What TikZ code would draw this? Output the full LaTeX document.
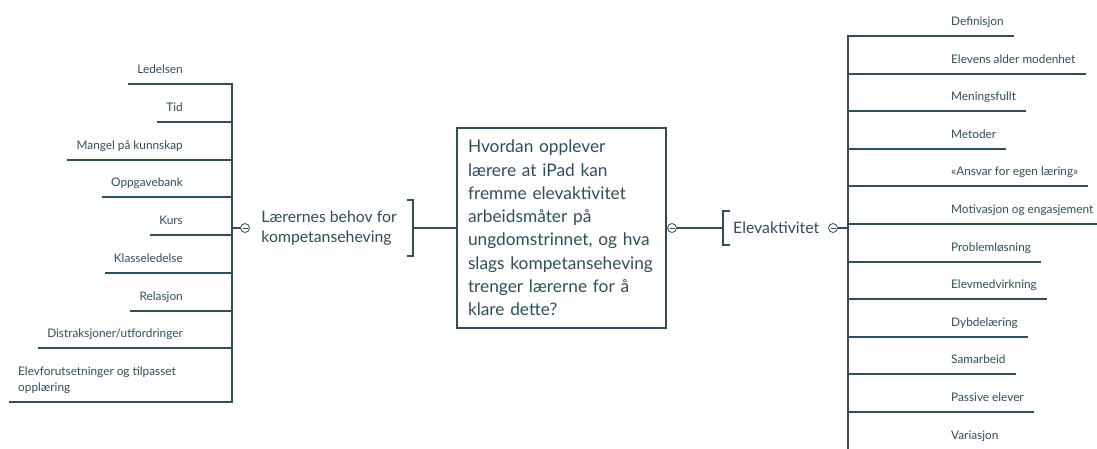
\documentclass[tikz,border=0pt]{standalone}
\usepackage{fontspec}
\setmainfont{Lato}
\usepackage{xcolor}
\definecolor{mapteal}{RGB}{46,78,90}

\begin{document}
\begin{tikzpicture}[x=1pt, y=-1pt]
% Define styles
\tikzstyle{branch} = [draw=mapteal, line width=2pt]
\tikzstyle{leafl} = [text=mapteal, font=\fontsize{11.8}{16}\selectfont, inner xsep=9pt, anchor=base east]
\tikzstyle{leafr} = [text=mapteal, font=\fontsize{11.8}{16}\selectfont, inner xsep=10pt, anchor=base west]
\tikzstyle{topic} = [text=mapteal, font=\fontsize{15.8}{20}\selectfont, align=left]
\tikzstyle{question} = [rectangle, draw=mapteal, line width=2pt, text=mapteal, font=\fontsize{17.3}{23.3}\selectfont, align=left, text width=187pt, inner xsep=11pt, minimum height=200pt]
\tikzstyle{toggle} = [circle, draw=mapteal, line width=0.8pt, fill=white, minimum size=9pt, inner sep=0pt,
  path picture={\draw[mapteal, line width=0.8pt] ([xshift=-2.5pt]path picture bounding box.center) -- ([xshift=2.5pt]path picture bounding box.center);}]

\useasboundingbox (0,0) rectangle (1097,448);
\clip (0,0) rectangle (1097,448);

% Spine points
\coordinate (sLtop) at (232,83);
\coordinate (sLmid) at (232,228);
\coordinate (sLbot) at (232,403);
\coordinate (sRtop) at (848,35);
\coordinate (sRmid) at (848,228);
\coordinate (sRbot) at (848,460);

% Place nodes
\node [question] (question) at (561.5,228) {Hvordan opplever\\lærere at iPad kan\\fremme elevaktivitet\\arbeidsmåter på\\ungdomstrinnet, og hva\\slags kompetanseheving\\trenger lærerne for å\\klare dette?};
\node [topic, anchor=east, inner xsep=16pt, minimum height=56pt] (behov) at (413,228) {Lærernes behov for\\kompetanseheving};
\node [topic, anchor=west, inner xsep=10pt, minimum height=34pt] (elev) at (723,228) {Elevaktivitet};

\node [leafl] (ledelsen) at (192,73.5) {Ledelsen};
\node [leafl] (tid) at (192,111.5) {Tid};
\node [leafl] (mangel) at (192,149.5) {Mangel på kunnskap};
\node [leafl] (oppgavebank) at (192,186.5) {Oppgavebank};
\node [leafl] (kurs) at (192,224.5) {Kurs};
\node [leafl] (klasse) at (192,262.5) {Klasseledelse};
\node [leafl] (relasjon) at (192,300.5) {Relasjon};
\node [leafl] (distraksjon) at (192,337.5) {Distraksjoner/utfordringer};
\node [leafl, anchor=base west, align=left] (forutsetning) at (9,391.5) {Elevforutsetninger og tilpasset\\opplæring};

\node [leafr] (definisjon) at (941,25.5) {Definisjon};
\node [leafr] (alder) at (941,63.5) {Elevens alder modenhet};
\node [leafr] (meningsfullt) at (941,100.5) {Meningsfullt};
\node [leafr] (metoder) at (941,138.5) {Metoder};
\node [leafr] (ansvar) at (941,175.5) {«Ansvar for egen læring»};
\node [leafr] (motivasjon) at (941,213.5) {Motivasjon og engasjement};
\node [leafr] (problem) at (941,251.5) {Problemløsning};
\node [leafr] (medvirkning) at (941,288.5) {Elevmedvirkning};
\node [leafr] (dybde) at (941,326.5) {Dybdelæring};
\node [leafr] (samarbeid) at (941,363.5) {Samarbeid};
\node [leafr] (passive) at (941,401.5) {Passive elever};
\node [leafr] (variasjon) at (941,439.5) {Variasjon};

% Draw branches
\draw [branch] (sLtop) -- (sLbot);
\draw [branch] (ledelsen.west |- 0,84) -- (232,84);
\draw [branch] (tid.west |- 0,122) -- (232,122);
\draw [branch] (mangel.west |- 0,160) -- (232,160);
\draw [branch] (oppgavebank.west |- 0,197) -- (232,197);
\draw [branch] (kurs.west |- 0,235) -- (232,235);
\draw [branch] (klasse.west |- 0,273) -- (232,273);
\draw [branch] (relasjon.west |- 0,311) -- (232,311);
\draw [branch] (distraksjon.west |- 0,348) -- (232,348);
\draw [branch] (forutsetning.west |- 0,402) -- (232,402);

\draw [branch] (sRtop) -- (sRbot);
\draw [branch] (848,36) -- (definisjon.east |- 0,36);
\draw [branch] (848,74) -- (alder.east |- 0,74);
\draw [branch] (848,111) -- (meningsfullt.east |- 0,111);
\draw [branch] (848,149) -- (metoder.east |- 0,149);
\draw [branch] (848,186) -- (ansvar.east |- 0,186);
\draw [branch] (848,224) -- (motivasjon.east |- 0,224);
\draw [branch] (848,262) -- (problem.east |- 0,262);
\draw [branch] (848,299) -- (medvirkning.east |- 0,299);
\draw [branch] (848,337) -- (dybde.east |- 0,337);
\draw [branch] (848,374) -- (samarbeid.east |- 0,374);
\draw [branch] (848,412) -- (passive.east |- 0,412);
\draw [branch] (848,450) -- (variasjon.east |- 0,450);

% Brackets and links
\draw [branch] ([xshift=-6pt]behov.north east) -- (behov.north east) -- (behov.south east) -- ([xshift=-6pt]behov.south east);
\draw [branch] ([xshift=7pt]elev.north west) -- (elev.north west) -- (elev.south west) -- ([xshift=7pt]elev.south west);
\draw [branch] (behov.east) -- (question.west);
\draw [branch] (question.east) -- (elev.west);
\draw [branch] (sLmid) -- (245,228);
\draw [branch] (833,228) -- (sRmid);

% Toggles
\node [toggle] (tglL) at (245,228) {};
\node [toggle] (tglR) at (672,228) {};
\node [toggle] (tglE) at (833,228) {};
\end{tikzpicture}
\end{document}
